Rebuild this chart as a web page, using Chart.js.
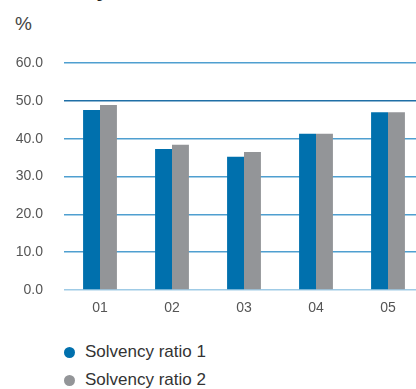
<!DOCTYPE html>
<html>
<head>
<meta charset="utf-8">
<script src="https://cdn.jsdelivr.net/npm/chart.js@4.4.1/dist/chart.umd.min.js"></script>
<style>
  html, body { margin: 0; padding: 0; background: #fff; width: 416px; height: 389px; overflow: hidden; }
  body { position: relative; font-family: "Liberation Sans", Arial, sans-serif; }
  #title { position: absolute; left: 16px; top: -22px; font-size: 21px; font-weight: bold; color: #222; }
  #unit { position: absolute; left: 15px; top: 13px; font-size: 19px; color: #444; }
  #wrap { position: absolute; left: 0; top: 0; width: 424px; height: 325px; }
  #legend { position: absolute; left: 64px; top: 338px; font-size: 17px; color: #333; }
  #legend div { height: 28px; line-height: 22px; display: flex; align-items: center; }
  #legend span.dot { display: inline-block; width: 11px; height: 11px; border-radius: 50%; margin-right: 10px; }
</style>
</head>
<body>
<div id="title">Solvency</div>
<div id="unit">%</div>
<div id="wrap"><canvas id="c" width="424" height="325"></canvas></div>
<div id="legend"></div>
<script>
const categories = ["01", "02", "03", "04", "05"];
const ratio1 = [47.6, 37.3, 35.2, 41.3, 47.0];
const ratio2 = [48.9, 38.4, 36.5, 41.3, 47.0];
const seriesNames = ["Solvency ratio 1", "Solvency ratio 2"];
const seriesColors = ["#0070ad", "#939598"];

const chart = new Chart(document.getElementById("c"), {
  type: "bar",
  data: {
    labels: categories,
    datasets: [
      { label: seriesNames[0], data: ratio1, backgroundColor: seriesColors[0] },
      { label: seriesNames[1], data: ratio2, backgroundColor: seriesColors[1] }
    ]
  },
  options: {
    responsive: false,
    animation: false,
    layout: { padding: { top: 63, right: 0, bottom: 0, left: 0 } },
    datasets: { bar: { categoryPercentage: 0.47, barPercentage: 1.0, borderWidth: 0 } },
    scales: {
      x: {
        grid: { display: false, drawTicks: false },
        border: { display: false },
        ticks: { color: "#555", font: { family: "Liberation Sans", size: 14 }, padding: 10 },
        afterFit: (s) => { s.height = 35; }
      },
      y: {
        min: 0,
        max: 60,
        ticks: {
          stepSize: 10,
          color: "#555",
          font: { family: "Liberation Sans", size: 14 },
          padding: 21,
          callback: (v) => Number(v).toFixed(1)
        },
        grid: {
          drawTicks: false,
          lineWidth: 1.5,
          color: (ctx) => {
            const v = ctx.tick && ctx.tick.value;
            if (v === 0) return "#9fcbe6";
            if (v === 50) return "#1f6fa6";
            return "#4f9fd0";
          }
        },
        border: { display: false },
        afterFit: (s) => { s.width = 64; }
      }
    },
    plugins: {
      legend: { display: false },
      tooltip: { enabled: false }
    }
  }
});

// legend built from the chart's datasets
const lg = document.getElementById("legend");
chart.data.datasets.forEach(ds => {
  const row = document.createElement("div");
  const dot = document.createElement("span");
  dot.className = "dot";
  dot.style.background = ds.backgroundColor;
  row.appendChild(dot);
  row.appendChild(document.createTextNode(ds.label));
  lg.appendChild(row);
});
</script>
</body>
</html>
